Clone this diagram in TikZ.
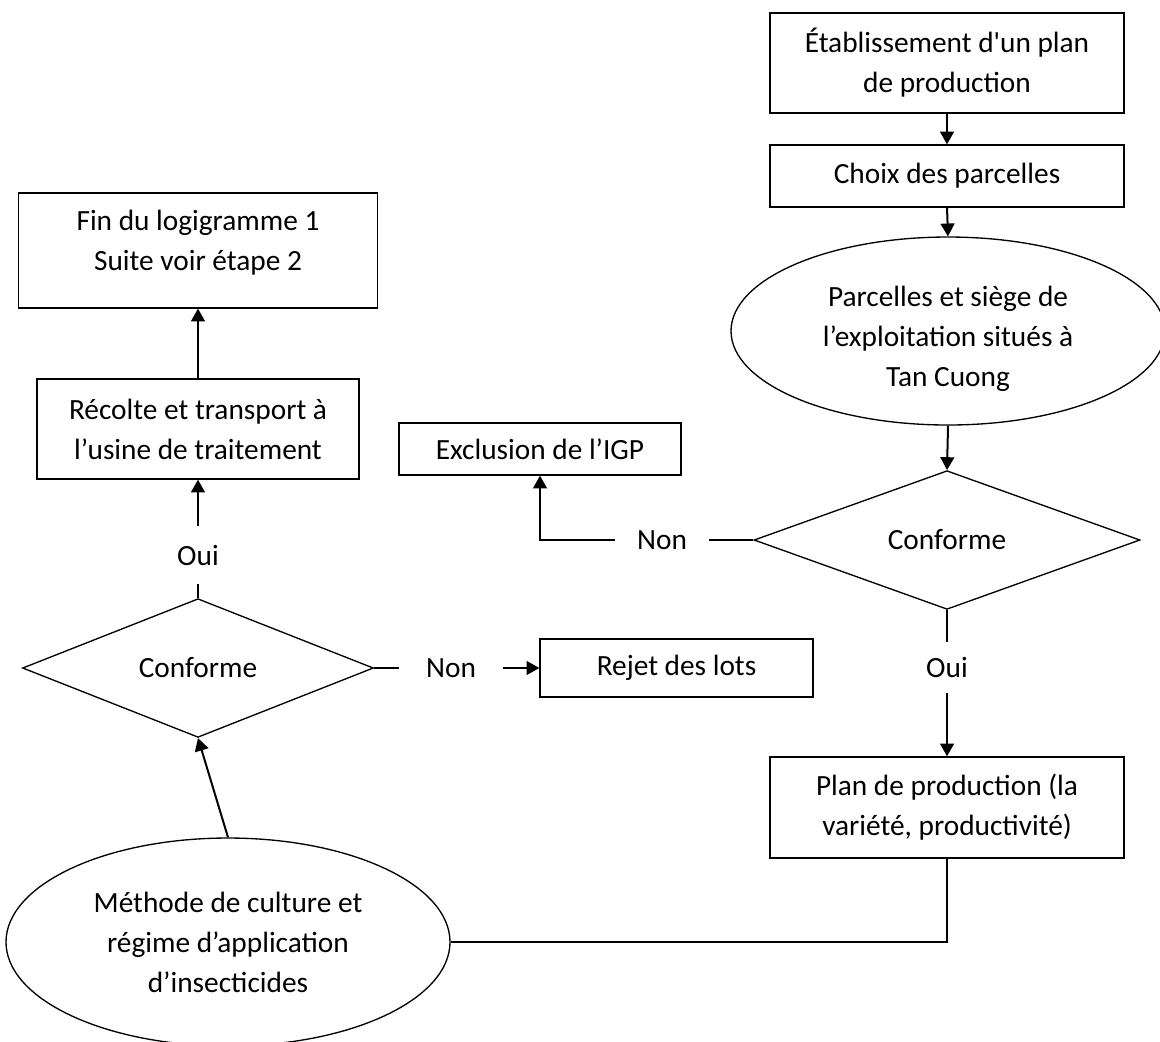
\documentclass[tikz,border=0pt]{standalone}
\usepackage{fontspec}
\newfontfamily\calfont{Carlito}
\usetikzlibrary{shapes.geometric,arrows.meta}
\begin{document}
\begin{tikzpicture}[x=0.375pt,y=-0.375pt,
  font=\calfont\fontsize{11pt}{15pt}\selectfont,
  shapeline/.style={draw,line width=0.5pt},
  boxnode/.style={shapeline,rectangle,inner sep=0pt,align=center},
  ovalnode/.style={shapeline,ellipse,inner sep=0pt,align=center},
  decision/.style={shapeline,diamond,inner sep=0pt},
  lbl/.style={inner sep=0pt,align=center},
  conn/.style={line width=0.75pt},
  thinconn/.style={line width=0.5pt},
  arr/.style={conn,-{Triangle[length=4.8pt,width=5.2pt]}},
]
\useasboundingbox (0,0) rectangle (1160,1041);

% right column
\node[boxnode,minimum width=132.75pt,minimum height=37.5pt] (b1) at (947,63) {Établissement d'un plan\\de production};
\node[boxnode,minimum width=132.75pt,minimum height=23.25pt] (b2) at (947,176) {Choix des parcelles};
\node[ovalnode,minimum width=162.75pt,minimum height=70.5pt] (e1) at (948,331) {};
\node[lbl] (e1text) at (948,339) {Parcelles et siège de\\l’exploitation situés à\\Tan Cuong};
\node[decision,minimum width=144.75pt,minimum height=45.4pt] (d1) at (947,540) {Conforme};
\node[boxnode,minimum width=105.75pt,minimum height=19.5pt] (excl) at (540,449) {Exclusion de l’IGP};
\node[lbl,minimum width=34.9pt] (non1) at (662,540) {Non};
\node[lbl,minimum height=18.4pt] (oui1) at (947,667.5) {Oui};
\node[boxnode,minimum width=132.75pt,minimum height=37.9pt] (plan) at (947,807.5) {Plan de production (la\\variété, productivité)};

% left column
\node[ovalnode,minimum width=166.5pt,minimum height=78pt] (e2) at (228,942) {Méthode de culture et\\régime d’application\\d’insecticides};
\node[decision,minimum width=131.6pt,minimum height=42.4pt] (d2) at (198,668) {Conforme};
\node[lbl,minimum width=38.25pt] (non2) at (451,668) {Non};
\node[boxnode,minimum width=102.4pt,minimum height=21.75pt] (rejet) at (676.5,668) {Rejet des lots};
\node[lbl,minimum height=21pt] (oui2) at (198,555) {Oui};
\node[boxnode,minimum width=120.75pt,minimum height=37.5pt] (recolte) at (198,429) {Récolte et transport à\\l’usine de traitement};
\node[boxnode,minimum width=134.6pt,minimum height=43.1pt] (fin) at (198,250.5) {};
\node[lbl] (fintext) at (198,243) {Fin du logigramme 1\\Suite voir étape 2};

% connectors
\draw[arr] (b1) -- (b2);
\draw[arr] (b2.south) -- (e1.north);
\draw[arr] (e1.south) -- (d1.north);
\draw[conn] (d1.west) -- (non1.east);
\draw[arr] (non1.west) -| (excl.south);
\draw[conn] (d1.south) -- (oui1.north);
\draw[arr] (oui1.south) -- (plan.north);
\draw[thinconn] (plan.south) |- (e2.east);
\draw[arr] (e2.north) -- (d2.south);
\draw[conn] (d2.east) -- (non2.west);
\draw[arr] (non2.east) -- (rejet.west);
\draw[conn] (d2.north) -- (oui2.south);
\draw[arr] (oui2.north) -- (recolte.south);
\draw[arr] (recolte.north) -- (fin.south);
\end{tikzpicture}
\end{document}
